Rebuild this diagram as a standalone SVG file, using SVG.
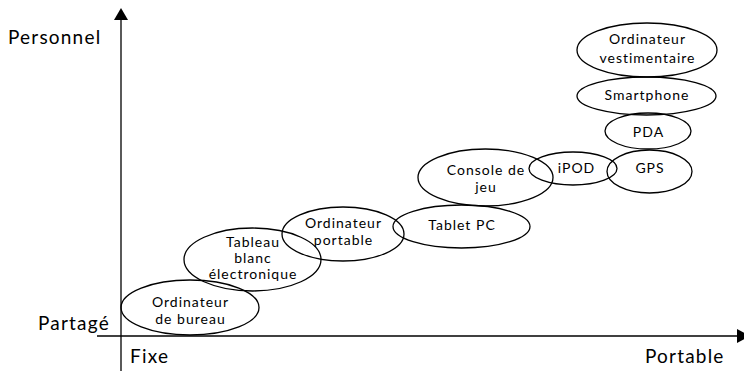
<svg xmlns="http://www.w3.org/2000/svg" width="744" height="371" viewBox="0 0 744 371">
  <style>
    .bubble { fill: none; stroke: #000; stroke-width: 1.3; }
    .lbl { font-family: Lato, "Open Sans", sans-serif; font-size: 14px; letter-spacing: 1px; fill: #000; text-anchor: middle; }
    .axis-lbl { font-family: Lato, "Open Sans", sans-serif; font-size: 19px; letter-spacing: 1.2px; fill: #000; }
    .axis { stroke: #000; stroke-width: 1.3; fill: none; }
  </style>
  <rect width="744" height="371" fill="#fff"/>

  <!-- axes -->
  <g id="axes">
    <line class="axis" x1="121" y1="18" x2="121" y2="371"/>
    <polygon points="121,8 114,20 128,20" fill="#000"/>
    <line class="axis" x1="97" y1="336" x2="740" y2="336"/>
    <polygon points="750,336 737,329 737,343" fill="#000"/>
    <text class="axis-lbl" x="8" y="44">Personnel</text>
    <text class="axis-lbl" x="38" y="330">Partagé</text>
    <text class="axis-lbl" x="130" y="363">Fixe</text>
    <text class="axis-lbl" x="645" y="363">Portable</text>
  </g>

  <g id="ordinateur-bureau">
    <ellipse class="bubble" cx="190" cy="307.5" rx="69" ry="27.5"/>
    <text class="lbl" x="190.5" y="307">Ordinateur</text>
    <text class="lbl" x="190.5" y="324">de bureau</text>
  </g>
  <g id="tableau-blanc">
    <ellipse class="bubble" cx="252.5" cy="259.5" rx="68.5" ry="31.5"/>
    <text class="lbl" x="253" y="247">Tableau</text>
    <text class="lbl" x="253" y="263">blanc</text>
    <text class="lbl" x="253" y="279">électronique</text>
  </g>
  <g id="ordinateur-portable">
    <ellipse class="bubble" cx="343" cy="234" rx="61" ry="27"/>
    <text class="lbl" x="343.5" y="228">Ordinateur</text>
    <text class="lbl" x="343.5" y="245">portable</text>
  </g>
  <g id="tablet-pc">
    <ellipse class="bubble" cx="461.5" cy="226.5" rx="68.5" ry="21.5"/>
    <text class="lbl" x="462" y="230">Tablet PC</text>
  </g>
  <g id="console-jeu">
    <ellipse class="bubble" cx="485.5" cy="177.5" rx="67.5" ry="28.5"/>
    <text class="lbl" x="486" y="175">Console de</text>
    <text class="lbl" x="486" y="192">jeu</text>
  </g>
  <g id="ipod">
    <ellipse class="bubble" cx="573" cy="168.5" rx="44" ry="16.5"/>
    <text class="lbl" x="576.5" y="173">iPOD</text>
  </g>
  <g id="gps">
    <ellipse class="bubble" cx="649.5" cy="171.5" rx="42.5" ry="21.5"/>
    <text class="lbl" x="650" y="173">GPS</text>
  </g>
  <g id="pda">
    <ellipse class="bubble" cx="648" cy="131" rx="43" ry="18"/>
    <text class="lbl" x="648.5" y="137">PDA</text>
  </g>
  <g id="smartphone">
    <ellipse class="bubble" cx="646.5" cy="96" rx="69.5" ry="19"/>
    <text class="lbl" x="647" y="100">Smartphone</text>
  </g>
  <g id="ordinateur-vestimentaire">
    <ellipse class="bubble" cx="647" cy="50" rx="70" ry="27"/>
    <text class="lbl" x="647.5" y="44">Ordinateur</text>
    <text class="lbl" x="647.5" y="63">vestimentaire</text>
  </g>
</svg>
